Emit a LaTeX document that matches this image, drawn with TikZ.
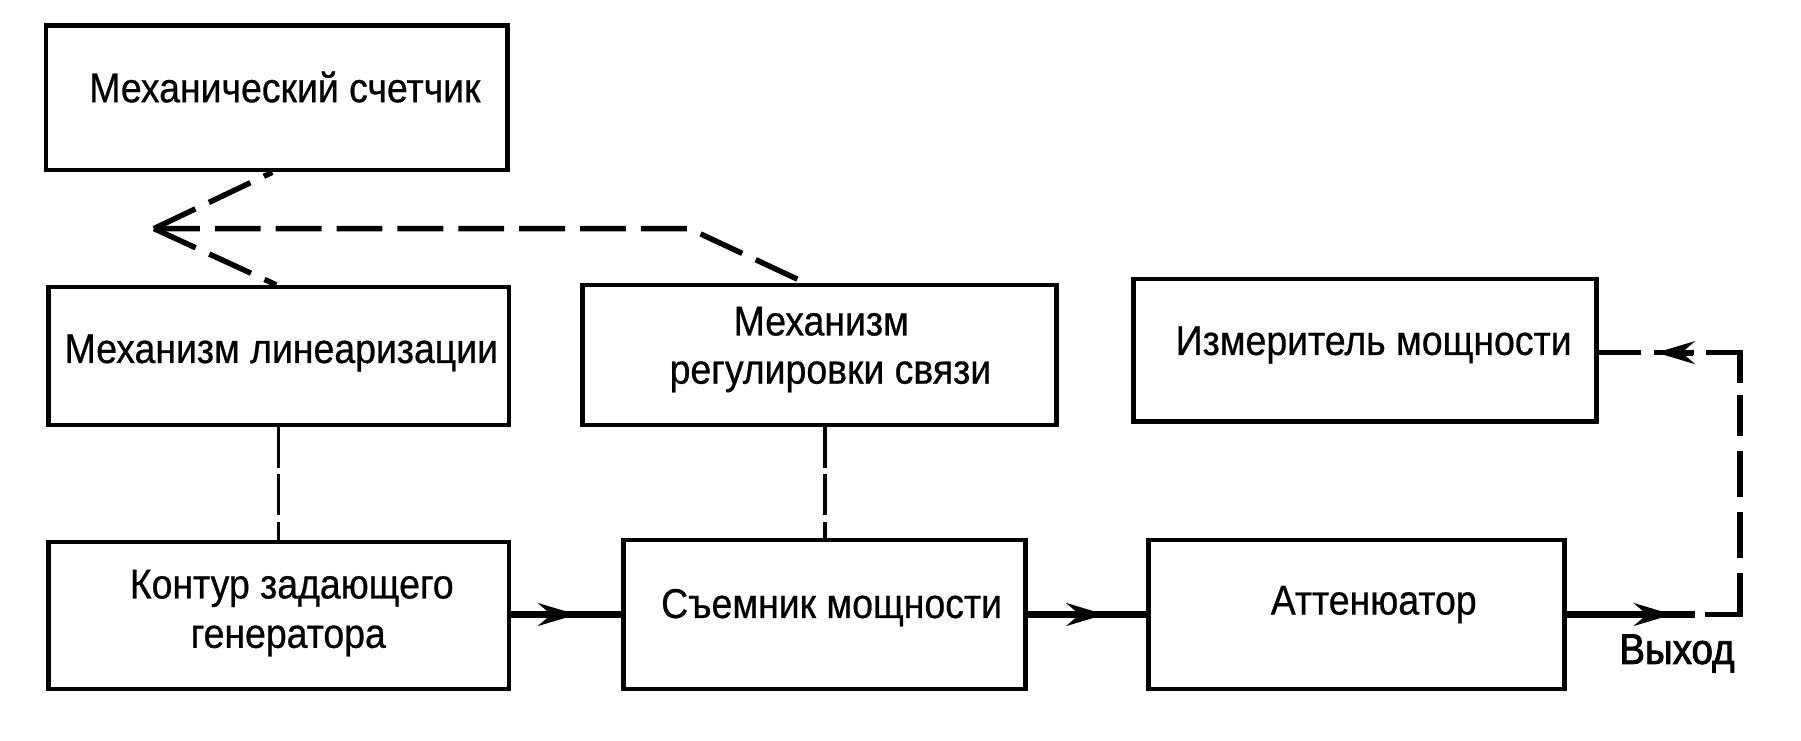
\documentclass[tikz,border=0pt]{standalone}
\usepackage{fontspec}
\setmainfont{Liberation Sans}[FakeStretch=0.9]
\usetikzlibrary{arrows.meta,calc}
\begin{document}
\begin{tikzpicture}[x=0.1mm,y=-0.1mm,
  blk/.style={draw, line width=1.15pt, inner sep=0pt},
  txt/.style={font=\fontsize{10.3}{12}\selectfont\addfontfeature{FakeBold=0.6}, inner sep=0pt, anchor=base},
  dsh/.style={line width=1.35pt, dash pattern=on 0.40cm off 0.13cm},
  vdsh/.style={line width=0.9pt, dash pattern=on 0.35cm off 0.06cm},
  rdsh/.style={line width=1.35pt, dash pattern=on 0.67cm off 0.13cm on 0.40cm off 0.13cm on 0.40cm off 0.13cm on 0.36cm off 0.11cm on 0.56cm off 0.10cm on 0.35cm off 0.11cm on 0.6cm},
  flow/.style={line width=1.5pt},
  tip/.style={-{Stealth[length=9.5pt,width=5.6pt,inset=3.2pt]}, line width=1.5pt}
]
\useasboundingbox (0,0) rectangle (1568,645);
% boxes
\node[blk, minimum width=4.02cm, minimum height=1.26cm] (b1) at (241,85) {};
\node[blk, minimum width=4.01cm, minimum height=1.20cm] (b2) at (242.5,310) {};
\node[blk, minimum width=4.13cm, minimum height=1.22cm] (b3) at (713.5,309) {};
\node[blk, minimum width=4.03cm, minimum height=1.24cm] (b4) at (1188.5,305) {};
\node[blk, minimum width=4.01cm, minimum height=1.28cm] (b5) at (242.5,536) {};
\node[blk, minimum width=3.50cm, minimum height=1.30cm] (b6) at (718,535) {};
\node[blk, minimum width=3.62cm, minimum height=1.30cm] (b7) at (1181,535) {};
% texts
\node[txt] (t1) at (248,89) {Механический счетчик};
\node[txt] (t2) at (245,316) {Механизм линеаризации};
\node[txt] (t3a) at (715,292) {Механизм};
\node[txt] (t3b) at (723,334) {регулировки связи};
\node[txt] (t4) at (1196,309) {Измеритель мощности};
\node[txt] (t5a) at (254,521) {Контур задающего};
\node[txt] (t5b) at (251,564) {генератора};
\node[txt] (t6) at (724,538) {Съемник мощности};
\node[txt] (t7) at (1196,535) {Аттенюатор};
\node[txt, font=\fontsize{10.6}{12}\selectfont\addfontfeature{FakeBold=2}] (out) at (1460,578) {Выход};
% mechanical links
\coordinate (j) at (134,199);
\coordinate (bend) at (600,199);
\draw[dsh] (j) -- ([xshift=-0.04cm]b1.south);
\draw[dsh] (j) -- ([xshift=-0.02cm]b2.north);
\draw[dsh] (j) -- (bend) -- ([xshift=-0.13cm]b3.north);
\draw[vdsh] (b2.south) -- (b5.north);
\draw[vdsh] (b6.north |- b3.south) -- (b6.north);
% signal path
\draw[flow] (b5.east |- b6.west) -- (b6.west);
\draw[tip] (b5.east |- b6.west) -- (502,535);
\draw[flow] (b6.east) -- (b7.west);
\draw[tip] (b6.east) -- (962,535);
\coordinate (o1) at (1476,535);
\coordinate (o0) at (1484,535);
\coordinate (o2) at (1515,535);
\coordinate (o3) at (1515,307);
\coordinate (a4) at (1474,307);
\coordinate (a4t) at (1442,307);
\draw[flow] (b7.east) -- (o1);
\draw[tip] (b7.east) -- (1456,535);
\draw[rdsh] (o0) -- (o2) -- (o3) -- (o3 -| b4.east);
\draw[tip] (a4) -- (a4t);
\end{tikzpicture}
\end{document}
